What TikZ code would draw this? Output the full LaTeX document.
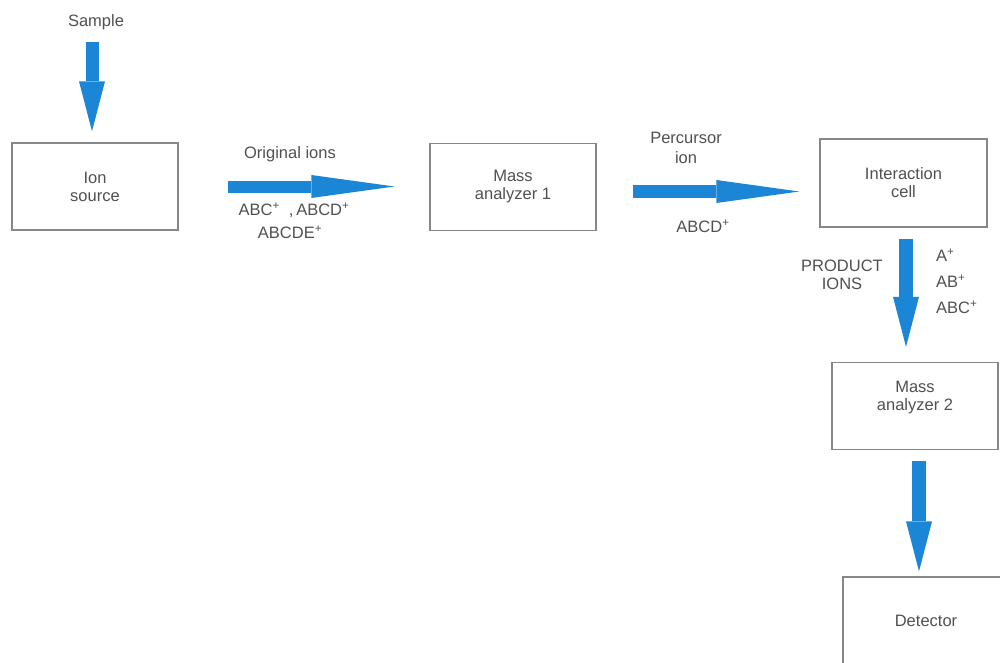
\documentclass[tikz,border=0pt]{standalone}
\usepackage{fontspec}
\setmainfont{Liberation Sans}
\usetikzlibrary{arrows.meta}
\definecolor{flowblue}{RGB}{28,134,214}
\definecolor{txtgray}{RGB}{80,80,80}
\definecolor{boxgray}{RGB}{135,135,135}

\begin{document}
\begin{tikzpicture}[x=1pt,y=-1pt,
    box/.style={draw=boxgray,line width=1.3pt,minimum width=166pt,minimum height=87pt,
      inner sep=0pt,align=center,text=txtgray},
    lbl/.style={text=txtgray,align=center,inner sep=1pt},
    hflow/.style={draw=flowblue,line width=12pt,
      -{Triangle[length=83pt,width=23pt,line width=0pt]}},
    vflow/.style={draw=flowblue,line width=13pt,
      -{Triangle[length=50pt,width=26pt,line width=0pt]}},
    font=\fontsize{16.5}{18}\selectfont]
    \clip (0,0) rectangle (1000,663);
    % the stages
    \node[box] (ionsrc) at (95,186.5) {Ion\\source};
    \node[box] (ma1) at (513,187) {Mass\\analyzer 1};
    \node[box,minimum width=167pt,minimum height=88pt] (cell) at (903.5,183) {Interaction\\cell};
    \node[box] (ma2) at (915,406) {Mass\\analyzer 2\\[2pt]\mbox{}};
    \node[box] (det) at (926,620.5) {Detector};

    % labels of the flows
    \node[lbl] (sample) at (96,22) {Sample};
    \node[lbl] (origlbl) at (290,154) {Original ions};
    \node[lbl] (origions) at (294,210) {ABC\textsuperscript{+}\ \ ,\,ABCD\textsuperscript{+}};
    \node[lbl] (origions2) at (290,232) {ABCDE\textsuperscript{+}};
    \node[lbl] (perclbl) at (686,148) {Percursor\\[2pt]ion};
    \node[lbl] (percion) at (703,226) {ABCD\textsuperscript{+}};
    \node[lbl] (prodlbl) at (842,275) {PRODUCT\\IONS};
    \node[lbl,anchor=west] (pa) at (935,255) {A\textsuperscript{+}};
    \node[lbl,anchor=west] (pab) at (935,281) {AB\textsuperscript{+}};
    \node[lbl,anchor=west] (pabc) at (935,307) {ABC\textsuperscript{+}};

    % the blue flow arrows
    \draw[vflow,shorten <=11pt,shorten >=11pt] ([xshift=-4pt]sample.south) -- ([xshift=-4pt]sample.south |- ionsrc.north);
    \draw[hflow,shorten <=49pt,shorten >=35pt] (ionsrc.east) -- (ionsrc.east -| ma1.west);
    \draw[hflow,line width=13pt,shorten <=36pt,shorten >=20pt] ([yshift=-4.5pt]ma1.east) -- ([yshift=-4.5pt]ma1.east -| cell.west);
    \draw[vflow,line width=14pt,shorten <=11pt,shorten >=15pt] ([xshift=2.5pt]cell.south) -- ([xshift=2.5pt]cell.south |- ma2.north);
    \draw[vflow,line width=14pt,shorten <=11pt,shorten >=5pt] ([xshift=4pt]ma2.south) -- ([xshift=4pt]ma2.south |- det.north);
\end{tikzpicture}
\end{document}
